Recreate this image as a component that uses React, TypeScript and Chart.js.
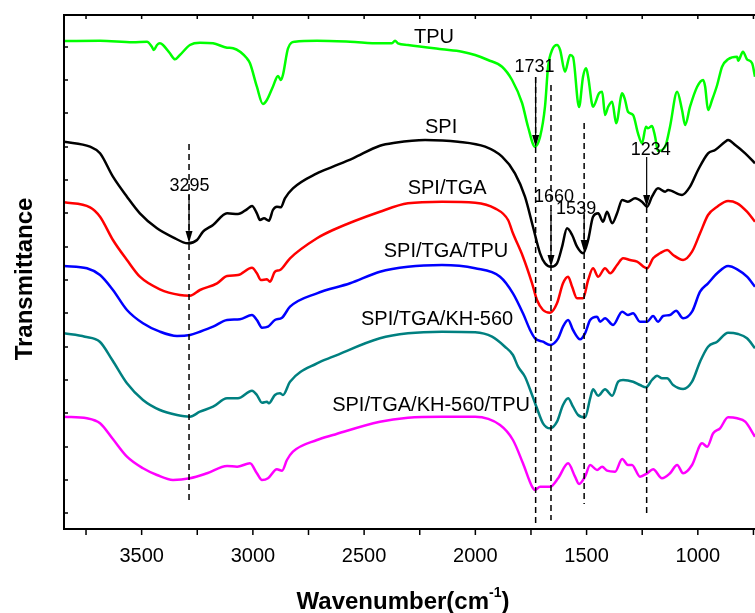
import React, { useEffect, useRef } from 'react';
import { Chart, registerables } from 'chart.js';

Chart.register(...registerables);

const FONT = '"Liberation Sans", Arial, Helvetica, sans-serif';

const X_MIN = 743;
const X_MAX = 3849;
const X_TICKS = [3750, 3500, 3250, 3000, 2750, 2500, 2250, 2000, 1750, 1500, 1250, 1000, 750];
const X_LABELED = [3500, 3000, 2500, 2000, 1500, 1000];
const Y_MIN = 0;
const Y_MAX = 514;
const Y_TICKS = [16, 49, 82, 116, 149, 182, 216, 249, 282, 316, 349, 382, 416, 449, 482];

// [wavenumber (cm-1), transmittance (a.u., offset curves)]
const TPU: [number, number][] = [
  [3849, 488], [3687, 488.3], [3539, 486.7], [3476, 487.3], [3454, 482.3], [3445, 479], [3431, 484],
  [3418, 485.7], [3404, 484], [3373, 475.7], [3350, 469.7], [3328, 474], [3283, 484], [3238, 486.3],
  [3179, 485.7], [3116, 481.3], [3089, 480.7], [3027, 470.7], [3013, 465.7], [2982, 442.3], [2955, 425],
  [2937, 429], [2910, 442.3], [2887, 453], [2874, 449], [2865, 454], [2842, 480.7], [2811, 487.3],
  [2712, 488.3], [2563, 487.3], [2429, 485.7], [2375, 485.7], [2361, 488.3], [2348, 485.7], [2303, 484],
  [2150, 479.7], [2060, 477.3], [2001, 474], [1943, 469], [1880, 462.3], [1835, 449], [1790, 426],
  [1763, 402], [1732, 382.3], [1709, 392.3], [1687, 422.3], [1673, 462.3], [1655, 479], [1633, 484],
  [1619, 479], [1597, 457.3], [1574, 474], [1561, 472], [1534, 422], [1516, 452.3], [1502, 460.7],
  [1493, 452.3], [1471, 422.3], [1444, 435.7], [1430, 437.3], [1417, 414], [1403, 422.3], [1385, 427.3],
  [1367, 405.7], [1340, 435.7], [1327, 429], [1314, 417.3], [1291, 414], [1269, 395.7], [1251, 385.7],
  [1233, 402.3], [1224, 400.7], [1206, 403], [1192, 392.3], [1179, 378], [1147, 382.3], [1125, 402.3],
  [1093, 437.3], [1071, 419], [1057, 404], [1035, 422.3], [1003, 442.3], [976, 449], [967, 442.3],
  [954, 419], [936, 429], [913, 444], [891, 462.3], [864, 469.7], [823, 472.3], [819, 468.3],
  [797, 477.3], [779, 469.7], [756, 465.7], [743, 452.3],
];

const SPI: [number, number][] = [
  [3849, 387.3], [3732, 382.3], [3687, 375.7], [3629, 352.3], [3566, 332.3], [3508, 315.7], [3431, 300.7],
  [3359, 291.7], [3292, 285.7], [3251, 289], [3224, 297.3], [3179, 304], [3116, 315.7], [3067, 315],
  [3027, 319.7], [3004, 323], [2982, 315.7], [2968, 309], [2950, 310.7], [2928, 308.3], [2910, 319],
  [2892, 322.3], [2874, 321.7], [2856, 330.7], [2820, 340.7], [2712, 355.7], [2640, 362.3], [2550, 370.7],
  [2429, 383.3], [2361, 386.3], [2226, 389], [2078, 387.3], [1956, 382.3], [1880, 372.3], [1822, 355.7],
  [1777, 332.3], [1741, 302.3], [1709, 275.7], [1687, 265.7], [1660, 262.3], [1633, 265.7], [1610, 282.3],
  [1588, 300.7], [1565, 294], [1543, 282.3], [1516, 275.7], [1493, 289], [1471, 312.3], [1448, 315.7],
  [1426, 307.3], [1408, 317.3], [1385, 305.7], [1363, 315.7], [1340, 329], [1314, 327.3], [1282, 330.7],
  [1251, 327.3], [1228, 322.3], [1206, 332.3], [1179, 340.7], [1147, 337.3], [1134, 339], [1071, 334],
  [1035, 342.3], [999, 359], [954, 375.7], [922, 379], [877, 387.3], [864, 389], [832, 384],
  [787, 375.7], [743, 365.7],
];

const SPI_TGA: [number, number][] = [
  [3849, 326.7], [3732, 321.7], [3687, 312.3], [3629, 289], [3566, 269], [3508, 252.3], [3418, 239.7],
  [3328, 234], [3283, 233.3], [3238, 239], [3161, 245.7], [3116, 253], [3067, 254], [3004, 261.3],
  [2982, 255.7], [2964, 249], [2937, 249.7], [2923, 247.3], [2901, 257.3], [2878, 259], [2833, 270.7],
  [2712, 290.7], [2640, 299], [2429, 317.3], [2303, 325.7], [2150, 327.3], [2001, 326.3], [1912, 320.7],
  [1853, 309], [1831, 295.7], [1786, 272.3], [1745, 245.7], [1723, 229], [1696, 219], [1664, 216.3],
  [1633, 225.7], [1606, 245.7], [1583, 252.3], [1565, 242.3], [1543, 230.7], [1516, 230.7], [1493, 249],
  [1471, 260.7], [1448, 252.3], [1417, 260.7], [1394, 255.7], [1363, 264], [1336, 270.7], [1305, 269],
  [1273, 267.3], [1228, 260.7], [1201, 270.7], [1170, 275.7], [1138, 279], [1111, 274], [1066, 269],
  [1026, 277.3], [990, 295.7], [954, 314], [913, 322.3], [864, 328], [823, 325.7], [779, 317.3],
  [743, 307.3],
];

const SPI_TGA_TPU: [number, number][] = [
  [3849, 263], [3746, 260.7], [3687, 254], [3629, 239], [3566, 219], [3494, 205.7], [3418, 197.3],
  [3341, 193], [3283, 194], [3238, 197.3], [3179, 202.3], [3116, 209], [3058, 209.7], [3004, 214],
  [2982, 209], [2959, 201.3], [2932, 202.3], [2901, 209], [2869, 211.3], [2833, 222.3], [2712, 235.7],
  [2563, 245.7], [2429, 257.3], [2303, 262.3], [2150, 264], [2001, 260.7], [1889, 252.3], [1831, 235.7],
  [1786, 215.7], [1754, 199], [1732, 190.7], [1696, 187.3], [1664, 184], [1628, 190.7], [1606, 202.3],
  [1583, 209], [1561, 199], [1529, 189.7], [1507, 195.7], [1484, 209], [1453, 212.3], [1439, 207.3],
  [1417, 210.7], [1381, 204], [1340, 217.3], [1314, 214], [1291, 215.7], [1260, 207.3], [1228, 207.3],
  [1201, 213], [1179, 207.3], [1156, 213], [1125, 214], [1098, 218.3], [1066, 210.7], [1026, 217.3],
  [990, 237.3], [954, 245.7], [913, 255.7], [864, 263], [823, 259.7], [779, 252.3], [743, 242.3],
];

const SPI_TGA_KH560: [number, number][] = [
  [3849, 195.7], [3755, 192.3], [3688, 187.3], [3632, 169], [3566, 145.7], [3494, 129], [3418, 119],
  [3341, 114], [3283, 112.3], [3238, 117.3], [3179, 122.3], [3116, 130.7], [3067, 130.7], [3004, 138.3],
  [2982, 134], [2959, 126.3], [2937, 127.3], [2928, 125.7], [2901, 134], [2878, 135.7], [2865, 134],
  [2833, 147.3], [2712, 165.7], [2640, 172.3], [2429, 190.7], [2303, 195.7], [2150, 197.3], [2001, 196.7],
  [1925, 192.3], [1867, 182.3], [1831, 174], [1808, 162.3], [1777, 152.3], [1745, 134], [1723, 120.7],
  [1696, 105.7], [1664, 100.7], [1633, 107.3], [1606, 124], [1583, 130.7], [1561, 122.3], [1538, 114],
  [1507, 111.7], [1484, 130.7], [1471, 139.7], [1448, 133.3], [1417, 139.7], [1385, 133.3], [1358, 147.3],
  [1336, 149], [1291, 147.3], [1260, 144], [1233, 141.7], [1206, 149], [1183, 153.3], [1161, 150.7],
  [1138, 150.7], [1111, 144], [1066, 140], [1026, 147.3], [990, 167.3], [954, 182.3], [913, 187.3],
  [864, 196.3], [819, 195], [779, 190.7], [743, 180.7],
];

const SPI_TGA_KH560_TPU: [number, number][] = [
  [3849, 112.3], [3746, 110.7], [3687, 105.7], [3632, 90.7], [3566, 72.3], [3494, 60.7], [3431, 54],
  [3359, 49], [3283, 50.7], [3206, 55.7], [3116, 63], [3071, 62.3], [3013, 65.7], [2982, 55.7],
  [2959, 49], [2932, 50.7], [2892, 59.7], [2869, 58.3], [2847, 69], [2820, 77.3], [2712, 89],
  [2640, 94], [2429, 107.3], [2303, 111.3], [2150, 112.3], [2001, 112.3], [1889, 104], [1831, 89],
  [1786, 65.7], [1745, 42.3], [1732, 39], [1709, 42.3], [1664, 42.3], [1628, 50.7], [1583, 65.7],
  [1552, 52.3], [1534, 45], [1507, 52.3], [1484, 64], [1453, 59], [1430, 62.3], [1408, 58.3],
  [1372, 57.3], [1340, 70], [1314, 64], [1296, 64], [1260, 52.3], [1228, 55.7], [1201, 59.7],
  [1161, 50.7], [1125, 55.7], [1093, 64], [1066, 55.7], [1026, 64], [981, 85.7], [958, 82.3],
  [931, 95.7], [900, 100.7], [864, 111.7], [823, 110.7], [787, 107.3], [743, 92.3],
];

const SERIES_NAMES = ['TPU', 'SPI', 'SPI/TGA', 'SPI/TGA/TPU', 'SPI/TGA/KH-560', 'SPI/TGA/KH-560/TPU'];
const SERIES_DATA = [TPU, SPI, SPI_TGA, SPI_TGA_TPU, SPI_TGA_KH560, SPI_TGA_KH560_TPU];
const SERIES_COLORS = ['#00ff00', '#000000', '#ff0000', '#0000ff', '#008080', '#ff00ff'];

// curve label anchor [wavenumber, value]
const CURVE_LABEL_POS: [number, number][] = [
  [2186, 492], [2154, 402], [2127, 341], [2132, 278], [2172, 210], [2199, 124],
];

// peak markers
const PEAK_LABELS = ['3295', '1731', '1660', '1539', '1234'];
const PEAK_WN = [3287, 1729, 1660, 1511, 1230];
const PEAK_DASH: [number, number][] = [[385, 28], [452, 3], [444, 9], [406, 25], [322, 16]];
const PEAK_ARROW: [number, number][] = [[334, 286], [452, 382], [319, 262], [314, 277], [372, 322]];
const PEAK_LABEL_POS: [number, number][] = [[3285, 343], [1734, 462], [1646, 332], [1547, 320], [1212, 379]];

const decorPlugin = {
  id: 'decor',
  afterDatasetsDraw(chart: any) {
    const { ctx, chartArea: a } = chart;
    const x = chart.scales.x;
    const y = chart.scales.y;
    ctx.save();

    // dashed guide lines
    ctx.strokeStyle = '#000';
    ctx.lineWidth = 1.5;
    ctx.setLineDash([6, 4]);
    PEAK_WN.forEach((wn, i) => {
      const px = x.getPixelForValue(wn);
      ctx.beginPath();
      ctx.moveTo(px, y.getPixelForValue(PEAK_DASH[i][0]));
      ctx.lineTo(px, y.getPixelForValue(PEAK_DASH[i][1]));
      ctx.stroke();
    });
    ctx.setLineDash([]);

    // arrows
    ctx.fillStyle = '#000';
    ctx.lineWidth = 1.2;
    PEAK_WN.forEach((wn, i) => {
      const px = x.getPixelForValue(wn);
      const y0 = y.getPixelForValue(PEAK_ARROW[i][0]);
      const y1 = y.getPixelForValue(PEAK_ARROW[i][1]);
      const head = 12;
      ctx.beginPath();
      ctx.moveTo(px, y0);
      ctx.lineTo(px, y1 - head + 1);
      ctx.stroke();
      ctx.beginPath();
      ctx.moveTo(px - 3.5, y1 - head);
      ctx.lineTo(px + 3.5, y1 - head);
      ctx.lineTo(px, y1);
      ctx.closePath();
      ctx.fill();
    });

    // peak labels
    ctx.textAlign = 'center';
    ctx.textBaseline = 'middle';
    ctx.font = `18px ${FONT}`;
    PEAK_LABELS.forEach((t, i) => {
      ctx.fillText(t, x.getPixelForValue(PEAK_LABEL_POS[i][0]), y.getPixelForValue(PEAK_LABEL_POS[i][1]));
    });

    // curve labels
    ctx.font = `20px ${FONT}`;
    SERIES_NAMES.forEach((t, i) => {
      ctx.fillText(t, x.getPixelForValue(CURVE_LABEL_POS[i][0]), y.getPixelForValue(CURVE_LABEL_POS[i][1]));
    });

    // frame
    ctx.lineWidth = 2;
    ctx.strokeStyle = '#000';
    ctx.beginPath();
    ctx.moveTo(a.right + 2, a.top);
    ctx.lineTo(a.left, a.top);
    ctx.lineTo(a.left, a.bottom);
    ctx.lineTo(a.right + 2, a.bottom);
    ctx.stroke();

    ctx.lineWidth = 1.5;
    x.ticks.forEach((t: any) => {
      const px = x.getPixelForValue(t.value);
      ctx.beginPath();
      ctx.moveTo(px, a.bottom);
      ctx.lineTo(px, a.bottom + 6);
      ctx.moveTo(px, a.top);
      ctx.lineTo(px, a.top + 4);
      ctx.stroke();
    });
    y.ticks.forEach((t: any) => {
      const py = y.getPixelForValue(t.value);
      ctx.beginPath();
      ctx.moveTo(a.left, py);
      ctx.lineTo(a.left + 4, py);
      ctx.stroke();
    });

    // axis titles
    ctx.fillStyle = '#000';
    ctx.textBaseline = 'middle';
    ctx.font = `bold 24px ${FONT}`;
    ctx.save();
    ctx.translate(25, (a.top + a.bottom) / 2 + 7);
    ctx.rotate(-Math.PI / 2);
    ctx.textAlign = 'center';
    ctx.fillText('Transmittance', 0, 0);
    ctx.restore();

    const main = 'Wavenumber(cm';
    const sup = '-1';
    const close = ')';
    ctx.font = `bold 24px ${FONT}`;
    const wMain = ctx.measureText(main).width;
    const wClose = ctx.measureText(close).width;
    ctx.font = `bold 14px ${FONT}`;
    const wSup = ctx.measureText(sup).width;
    const total = wMain + wSup + wClose;
    const cx = 403;
    const ty = 602;
    let sx = cx - total / 2;
    ctx.textAlign = 'left';
    ctx.font = `bold 24px ${FONT}`;
    ctx.fillText(main, sx, ty);
    sx += wMain;
    ctx.font = `bold 14px ${FONT}`;
    ctx.fillText(sup, sx, ty - 9);
    sx += wSup;
    ctx.font = `bold 24px ${FONT}`;
    ctx.fillText(close, sx, ty);

    ctx.restore();
  },
};

export default function App() {
  const ref = useRef<HTMLCanvasElement>(null);
  useEffect(() => {
    if (!ref.current) return;
    const chart = new Chart(ref.current, {
      type: 'line',
      data: {
        datasets: SERIES_DATA.map((d, i) => ({
          label: SERIES_NAMES[i],
          data: d.map(([wn, v]) => ({ x: wn, y: v })),
          borderColor: SERIES_COLORS[i],
          backgroundColor: SERIES_COLORS[i],
          borderWidth: 2.5,
          pointRadius: 0,
          cubicInterpolationMode: 'monotone' as const,
          fill: false,
        })),
      },
      options: {
        responsive: false,
        animation: false,
        devicePixelRatio: 1,
        layout: { padding: { top: 15, left: 0, right: 0, bottom: 0 } },
        plugins: { legend: { display: false }, tooltip: { enabled: false }, title: { display: false } },
        scales: {
          x: {
            type: 'linear',
            reverse: true,
            min: X_MIN,
            max: X_MAX,
            grid: { display: false, drawTicks: false },
            border: { display: false },
            afterBuildTicks: (s: any) => {
              s.ticks = X_TICKS.map((v) => ({ value: v }));
            },
            afterFit: (s: any) => {
              s.height = 84;
              s.paddingLeft = 0;
              s.paddingRight = 0;
            },
            ticks: {
              color: '#000',
              font: { size: 20, family: FONT },
              padding: 15,
              maxRotation: 0,
              autoSkip: false,
              callback: (v: any) => (X_LABELED.includes(Number(v)) ? String(v) : ''),
            },
          },
          y: {
            type: 'linear',
            min: Y_MIN,
            max: Y_MAX,
            grid: { display: false, drawTicks: false },
            border: { display: false },
            afterBuildTicks: (s: any) => {
              s.ticks = Y_TICKS.map((v) => ({ value: v }));
            },
            afterFit: (s: any) => {
              s.width = 64;
              s.paddingTop = 0;
              s.paddingBottom = 0;
            },
            ticks: { display: false },
          },
        },
      },
      plugins: [decorPlugin],
    });
    return () => chart.destroy();
  }, []);
  return (
    <div style={{ position: 'absolute', left: 0, top: 0, width: 755, height: 613, background: '#fff' }}>
      <canvas ref={ref} width={755} height={613} style={{ display: 'block' }} />
    </div>
  );
}
